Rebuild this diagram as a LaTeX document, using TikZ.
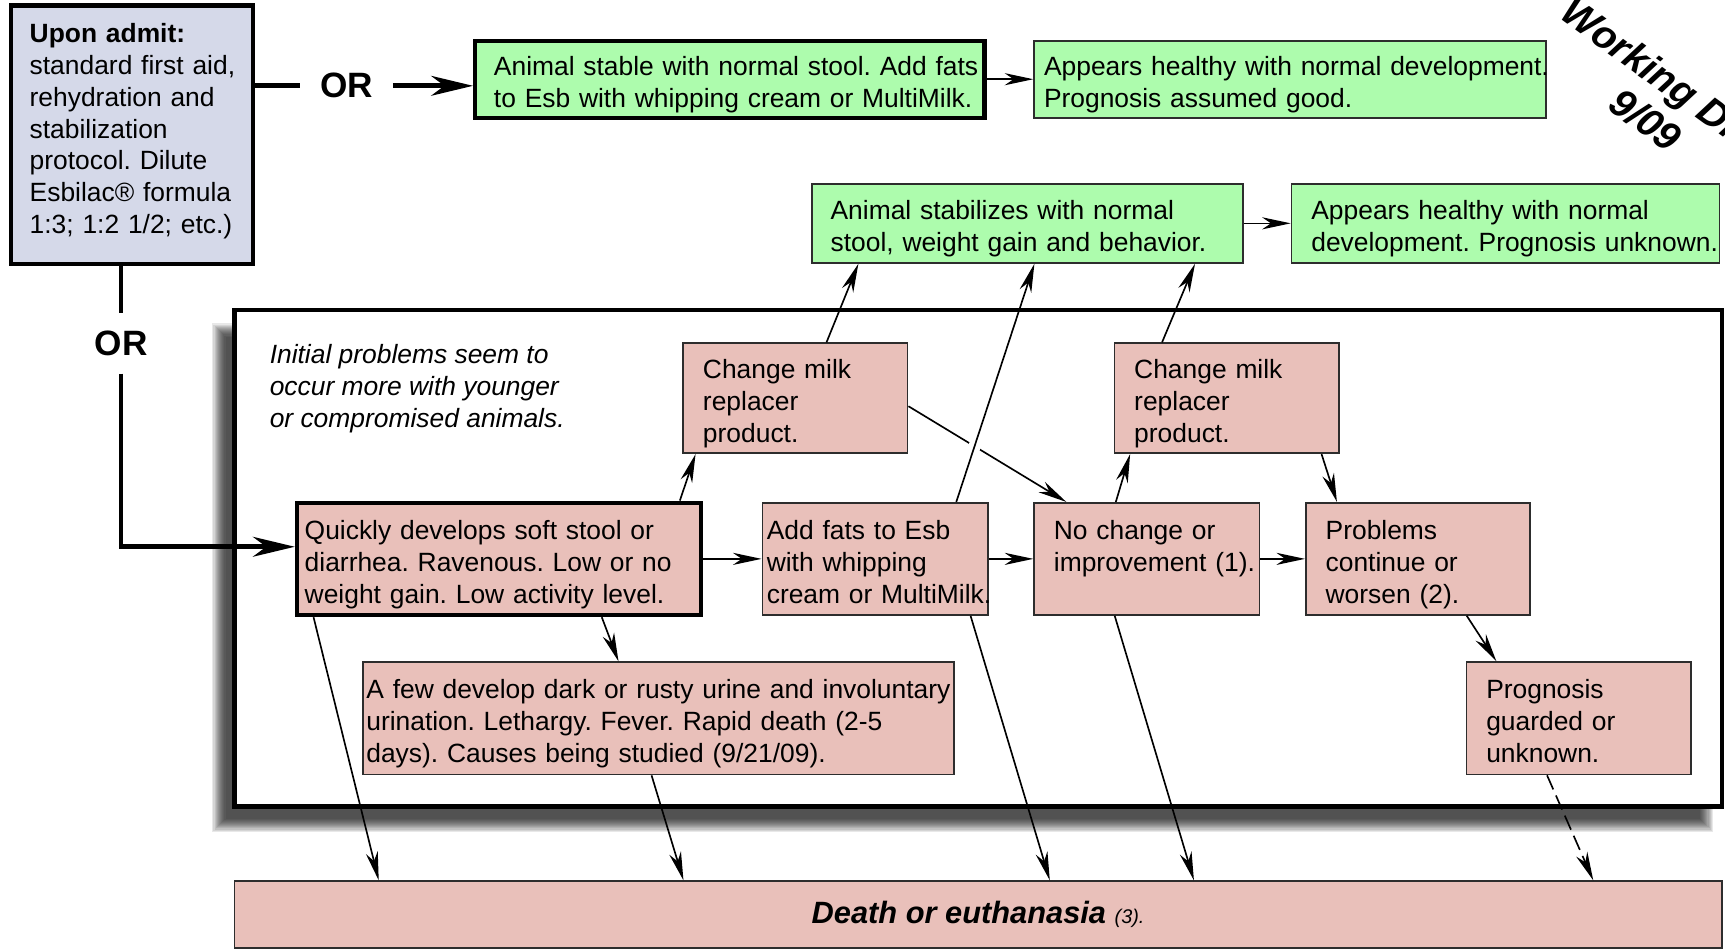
\documentclass[tikz,border=0pt]{standalone}
\usepackage{fontspec}
\setmainfont{Liberation Sans}
\usetikzlibrary{arrows.meta,calc}
\definecolor{grn}{RGB}{173,252,173}
\definecolor{pnk}{RGB}{233,192,186}
\definecolor{lav}{RGB}{213,217,233}
\definecolor{bord}{RGB}{45,45,45}
\definecolor{shadowc}{RGB}{20,20,20}
\newcommand\mytop{\rule{0pt}{28pt}}
\newcommand\mybot{\rule[-5.5pt]{0pt}{5.5pt}}
\frenchspacing
\begin{document}
\begin{tikzpicture}[x=1pt,y=-1pt,
  base/.style={font=\fontsize{24}{29}\selectfont\frenchspacing, align=left, inner ysep=0pt},
  pinkbox/.style={base, fill=pnk, draw=bord, line width=1.5pt},
  greenbox/.style={base, fill=grn, draw=bord, line width=1.5pt},
  heavy/.style={draw=black, line width=4pt},
  arr/.style={line width=1.5pt, -{Stealth[length=26pt,width=11pt,inset=8pt]}},
  bigarr/.style={line width=4.5pt, -{Stealth[length=38pt,width=18pt,inset=12pt]}},
  thickline/.style={line width=4.5pt},
  orlabel/.style={font=\fontsize{32}{34}\selectfont\bfseries, inner xsep=18pt, inner ysep=16pt}]
\useasboundingbox (0,0) rectangle (1568,864.5);
\fill[white] (0,0) rectangle (1568,864.5);

% Working draft stamp (clipped at the page edge)
\begin{scope}
\clip (0,0) rectangle (1568,864.5);
\node[font=\fontsize{36}{41}\selectfont\bfseries\itshape, rotate=-36, align=center, inner sep=0pt] (wd) at (1508,92) {Working Draft\\9/09};
\end{scope}

% blurred shadow of the frame
\foreach \d in {-6,-5,...,6}{
  \fill[shadowc, opacity=0.096] (199-\d,300-\d) rectangle (1551+\d,750+\d);
}
\node[draw=black, line width=4pt, fill=white, minimum width=1352pt, minimum height=451pt, inner sep=0pt] (frame) at (889,507.5) {};

% top row
\node[base, fill=lav, heavy, minimum width=220pt, minimum height=235pt, text width=186pt, inner xsep=17pt] (admit) at (120,122.5)
  {\rule{0pt}{18pt}\mbox{\bfseries Upon admit:}\\\mbox{standard first aid,}\\\mbox{rehydration and}\\\mbox{stabilization}\\\mbox{protocol. Dilute}\\\mbox{Esbilac® formula}\\\mbox{1:3; 1:2 1/2; etc.)}\rule[-12pt]{0pt}{12pt}};
\node[orlabel] (or1) at (315,78) {OR};
\node[orlabel] (or2) at (110,312) {OR};

\node[greenbox, heavy, minimum width=463pt, minimum height=70pt, text width=429pt, inner xsep=17pt] (stable1) at (663.5,72)
  {\mytop\mbox{Animal stable with normal stool. Add fats}\\\mbox{to Esb with whipping cream or MultiMilk.}\mybot};
\node[greenbox, minimum width=465pt, minimum height=70pt, text width=447pt, inner xsep=9pt] (good1) at (1172.5,72)
  {\mytop\mbox{Appears healthy with normal development.}\\\mbox{Prognosis assumed good.}\mybot};
\node[greenbox, minimum width=392pt, minimum height=72pt, text width=358pt, inner xsep=17pt] (stab2) at (934,203)
  {\mytop\mbox{Animal stabilizes with normal}\\\mbox{stool, weight gain and behavior.}\mybot};
\node[greenbox, minimum width=389pt, minimum height=72pt, text width=353pt, inner xsep=18pt] (good2) at (1368.5,203)
  {\mytop\mbox{Appears healthy with normal}\\\mbox{development. Prognosis unknown.}\mybot};

% inside the frame
\node[font=\fontsize{24}{29}\selectfont\itshape, align=left, anchor=west, inner sep=0pt] (note) at (245,353)
  {Initial problems seem to\\occur more with younger\\or compromised animals.};
\node[pinkbox, minimum width=204pt, minimum height=100pt, text width=168pt, inner xsep=18pt] (cm1) at (723,362)
  {\mytop\mbox{Change milk}\\\mbox{replacer}\\\mbox{product.}\mybot};
\node[pinkbox, minimum width=204pt, minimum height=100pt, text width=168pt, inner xsep=18pt] (cm2) at (1115,362)
  {\mytop\mbox{Change milk}\\\mbox{replacer}\\\mbox{product.}\mybot};
\node[pinkbox, heavy, minimum width=367pt, minimum height=102pt, text width=353pt, inner xsep=7pt] (quick) at (453.5,508)
  {\mytop\mbox{Quickly develops soft stool or}\\\mbox{diarrhea. Ravenous. Low or no}\\\mbox{weight gain. Low activity level.}\mybot};
\node[pinkbox, minimum width=205pt, minimum height=102pt, text width=197pt, inner xsep=4pt] (fats) at (795.5,508)
  {\mytop\mbox{Add fats to Esb}\\\mbox{with whipping}\\\mbox{cream or MultiMilk.}\mybot};
\node[pinkbox, minimum width=205pt, minimum height=102pt, text width=169pt, inner xsep=18pt] (nochg) at (1042.5,508)
  {\mytop\mbox{No change or}\\\mbox{improvement (1).}\\\mbox{}\mybot};
\node[pinkbox, minimum width=204pt, minimum height=102pt, text width=168pt, inner xsep=18pt] (prob) at (1289,508)
  {\mytop\mbox{Problems}\\\mbox{continue or}\\\mbox{worsen (2).}\mybot};
\node[pinkbox, minimum width=204pt, minimum height=102pt, text width=168pt, inner xsep=18pt] (progn) at (1435,653)
  {\mytop\mbox{Prognosis}\\\mbox{guarded or}\\\mbox{unknown.}\mybot};
\node[pinkbox, minimum width=537pt, minimum height=102pt, text width=531pt, inner xsep=3pt] (afew) at (598.5,653)
  {\mytop\mbox{A few develop dark or rusty urine and involuntary}\\\mbox{urination. Lethargy. Fever. Rapid death (2-5}\\\mbox{days). Causes being studied (9/21/09).}\mybot};

% bottom
\node[pinkbox, align=center, minimum width=1352pt, minimum height=61pt] (death) at (889,831.5)
  {\fontsize{28}{30}\selectfont\bfseries\itshape Death or euthanasia {\mdseries\fontsize{18}{20}\selectfont (3).}};

% thick connectors
\draw[thickline] (admit.east |- or1.west) -- (or1.west);
\draw[bigarr] (or1.east) -- (or1.east -| stable1.west);
\draw[thickline] (or2.north |- admit.south) -- (or2.north);
\draw[bigarr] (or2.south) |- ([yshift=11pt]quick.west);

% thin connectors
\draw[arr] (stable1.east) -- (good1.west);
\draw[arr] (stab2.east) -- (good2.west);
\draw[arr] (quick.east) -- (fats.west);
\draw[arr] (fats.east) -- (nochg.west);
\draw[arr] (nochg.east) -- (prob.west);
\draw[arr] ([xshift=350pt]quick.north west) -- ([xshift=12pt]cm1.south west);
\draw[arr] ([xshift=131pt]cm1.north west) -- ([xshift=43pt]stab2.south west);
\draw[arr] ([yshift=-58pt]cm1.north east) -- ([xshift=30pt]nochg.north west);
\coordinate (g1) at ([xshift=177pt]fats.north west);
\coordinate (g2) at ([xshift=203pt]stab2.south west);
\draw[white, line width=11pt] ($(g1)!0.20!(g2)$) -- ($(g1)!0.265!(g2)$);
\draw[arr] (g1) -- (g2);
\draw[arr] ([xshift=75pt]nochg.north west) -- ([xshift=15pt]cm2.south west);
\draw[arr] ([xshift=44pt]cm2.north west) -- ([xshift=349pt]stab2.south west);
\draw[arr] ([xshift=189pt]cm2.south west) -- ([xshift=29pt]prob.north west);
\draw[arr] ([xshift=279pt]quick.south west) -- ([xshift=233pt]afew.north west);
\draw[arr] ([xshift=147pt]prob.south west) -- ([xshift=28pt]progn.north west);
\draw[arr, dash pattern=on 14pt off 6pt] ([xshift=74pt]progn.south west) -- ([xshift=1236pt]death.north west);
\draw[arr] ([xshift=17pt]quick.south west) -- ([xshift=132pt]death.north west);
\draw[arr] ([xshift=263pt]afew.south west) -- ([xshift=409pt]death.north west);
\draw[arr] ([xshift=190pt]fats.south west) -- ([xshift=742pt]death.north west);
\draw[arr] ([xshift=74pt]nochg.south west) -- ([xshift=873pt]death.north west);
\end{tikzpicture}
\end{document}
